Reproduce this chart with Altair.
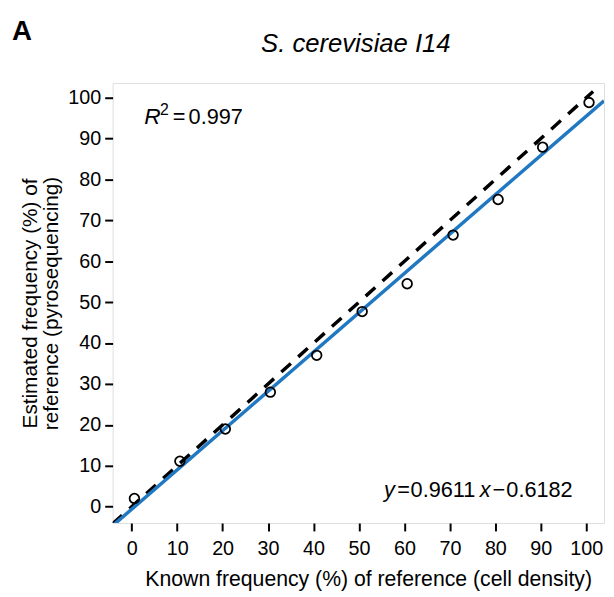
import altair as alt
import pandas as pd

known = [0.6, 10.6, 20.6, 30.5, 40.7, 50.7, 60.6, 70.7, 80.6, 90.4, 100.6]
estimated = [2.0, 11.1, 19.0, 28.0, 37.0, 47.7, 54.5, 66.4, 75.1, 87.9, 98.8]
slope = 0.9611
intercept = -0.6182
x_dom = [-4.2, 103.9]
y_dom = [-4.0, 103.6]
ticks = list(range(0, 101, 10))
identity_ends = [-4.2, 101.5]

FONT = "Liberation Sans"
W, H = 498, 446

pts = pd.DataFrame({"x": known, "y": estimated})
fit = pd.DataFrame({"x": x_dom, "y": [slope * v + intercept for v in x_dom]})
ident = pd.DataFrame({"x": identity_ends, "y": identity_ends})

xs = alt.Scale(domain=x_dom, nice=False, zero=False)
ys = alt.Scale(domain=y_dom, nice=False, zero=False)

xax = alt.Axis(values=ticks, title="Known frequency (%) of reference (cell density)",
               grid=False, domain=False, tickColor="black", tickWidth=2, tickSize=8,
               labelFont=FONT, labelFontSize=20, labelColor="black", labelPadding=8,
               titleFont=FONT, titleFontSize=21.5, titleFontWeight="normal", titleColor="black",
               titlePadding=10, titleX=259, titleAlign="center")
yax = alt.Axis(values=ticks, title=["Estimated frequency (%) of", "reference (pyrosequencing)"],
               grid=False, domain=False, tickColor="black", tickWidth=2, tickSize=8,
               labelFont=FONT, labelFontSize=20, labelColor="black", labelPadding=4,
               titleFont=FONT, titleFontSize=21, titleFontWeight="normal", titleColor="black",
               titlePadding=6, titleLineHeight=22)

ident_layer = alt.Chart(ident).mark_line(color="black", strokeWidth=3.5, strokeDash=[13, 10], clip=True).encode(
    x=alt.X("x:Q", scale=xs, axis=xax), y=alt.Y("y:Q", scale=ys, axis=yax))
fit_layer = alt.Chart(fit).mark_line(color="#1f78c1", strokeWidth=3.5, clip=True).encode(
    x=alt.X("x:Q", scale=xs), y=alt.Y("y:Q", scale=ys))
pt_layer = alt.Chart(pts).mark_point(shape="circle", filled=False, color="black", strokeWidth=1.8, size=95, opacity=1).encode(
    x=alt.X("x:Q", scale=xs), y=alt.Y("y:Q", scale=ys))

def txt(s, x, y, size=22, style="normal", weight="normal", align="left"):
    return alt.Chart(pd.DataFrame({"t": [s]})).mark_text(
        font=FONT, fontSize=size, fontStyle=style, fontWeight=weight, align=align,
        baseline="alphabetic", color="black").encode(
        x=alt.value(x), y=alt.value(y), text="t:N")

annos = [
    txt("A", -102, -43, size=28, weight="bold"),
    txt("S. cerevisiae I14", 246.5, -31, size=26, style="italic", align="center"),
    txt("R", 32, 42, size=23, style="italic"),
    txt("2", 48, 33, size=16),
    txt("=", 61, 42),
    txt("0.997", 77, 42),
    txt("y", 275, 420, style="italic"),
    txt("=", 288.5, 420),
    txt("0.9611", 302, 420),
    txt("x", 372, 420, style="italic"),
    txt("\u2212", 385, 420),
    txt("0.6182", 399, 420),
]

chart = alt.layer(ident_layer, fit_layer, pt_layer, *annos).properties(
    width=W, height=H,
    autosize=alt.AutoSizeParams(type="none"),
    padding={"left": 106, "top": 72, "right": 2, "bottom": 70},
).configure_view(stroke="black", strokeWidth=2).configure(background="white")

chart.save("out.html", embed_options={"renderer": "svg", "actions": False})
